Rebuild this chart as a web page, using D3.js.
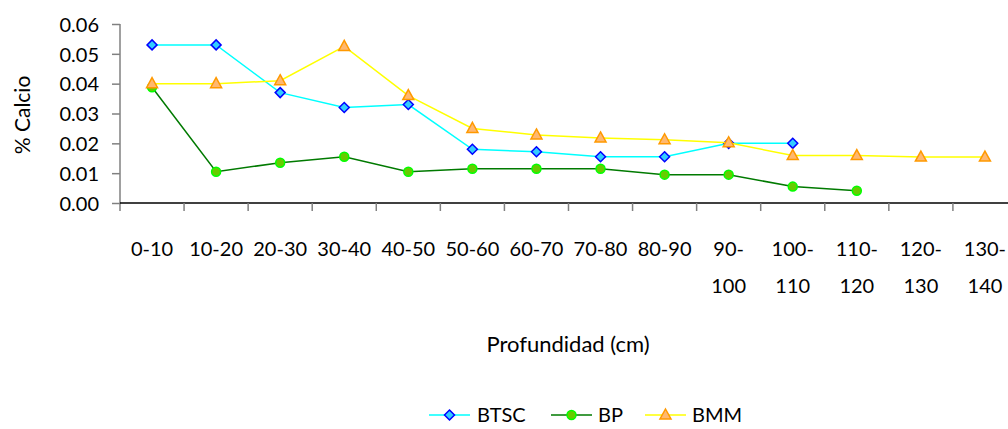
<!DOCTYPE html>
<html>
<head>
<meta charset="utf-8">
<script src="https://cdn.jsdelivr.net/npm/d3@7"></script>
<style>
  html, body { margin: 0; padding: 0; background: #fff; }
  svg { display: block; }
  text { font-family: Lato, "Open Sans", sans-serif; fill: #000; }
</style>
</head>
<body>
<svg id="chart" width="1008" height="429"></svg>
<script>
// Depth intervals (cm)
const categories = ["0-10", "10-20", "20-30", "30-40", "40-50", "50-60", "60-70",
  "70-80", "80-90", "90-100", "100-110", "110-120", "120-130", "130-140"];

// % calcium per profile
const btsc = [0.053, 0.053, 0.037, 0.032, 0.033, 0.018, 0.0172, 0.0155, 0.0155, 0.020, 0.020, null, null, null];
const bp   = [0.0388, 0.0105, 0.0135, 0.0155, 0.0105, 0.0115, 0.0115, 0.0115, 0.0095, 0.0095, 0.0055, 0.0041, null, null];
const bmm  = [0.040, 0.040, 0.041, 0.0525, 0.036, 0.025, 0.0228, 0.0218, 0.0212, 0.0202, 0.0159, 0.0159, 0.0154, 0.0154];

const yTicks = [0, 0.01, 0.02, 0.03, 0.04, 0.05, 0.06];

const series = [
  { name: "BTSC", values: btsc, line: "#00FFFF", fill: "#33CCFF", stroke: "#0000FF", shape: "diamond" },
  { name: "BP",   values: bp,   line: "#007A00", fill: "#66CC00", stroke: "#00FF00", shape: "circle" },
  { name: "BMM",  values: bmm,  line: "#FFFF00", fill: "#FFB870", stroke: "#FF9900", shape: "triangle" }
];

const FS = 20;
const svg = d3.select("#chart");
const plotLeft = 120, plotTop = 24, plotBottom = 203, band = 64.07;

const x = d3.scaleBand().domain(categories).range([plotLeft, plotLeft + band * categories.length]);
const y = d3.scaleLinear().domain([0, 0.06]).range([plotBottom, plotTop]);

// Y axis (gray)
const yAxis = svg.append("g")
  .attr("transform", `translate(${plotLeft},0)`)
  .call(d3.axisLeft(y).tickValues(yTicks).tickFormat(d3.format(".2f")).tickSize(8).tickSizeOuter(0));
yAxis.select(".domain").remove();
yAxis.append("line").attr("x1", 0).attr("x2", 0).attr("y1", plotTop).attr("y2", plotBottom + 8)
  .attr("stroke", "#808080").attr("stroke-width", 1.5);
yAxis.selectAll(".tick line").attr("stroke", "#808080").attr("stroke-width", 1.5);
yAxis.selectAll(".tick text").attr("x", -21).attr("dy", "0.36em")
  .attr("font-size", FS).style("font-family", "Lato, sans-serif");

// X axis: black baseline, gray category separators
svg.append("line").attr("x1", plotLeft).attr("x2", 1008).attr("y1", plotBottom).attr("y2", plotBottom)
  .attr("stroke", "#000").attr("stroke-width", 1.5);
svg.append("g").selectAll("line")
  .data(categories.slice(1))
  .join("line")
  .attr("x1", d => x(d)).attr("x2", d => x(d))
  .attr("y1", plotBottom).attr("y2", plotBottom + 8)
  .attr("stroke", "#808080").attr("stroke-width", 1.5);

// Category labels, wrapped after the hyphen when too wide
const xl = svg.append("g").selectAll("text").data(categories).join("text")
  .attr("text-anchor", "middle")
  .attr("font-size", FS)
  .attr("x", d => x(d) + x.bandwidth() / 2)
  .attr("y", 256);
xl.each(function(d) {
  const t = d3.select(this);
  if (d.length > 5) {
    const i = d.indexOf("-") + 1;
    t.append("tspan").attr("x", t.attr("x")).text(d.slice(0, i));
    t.append("tspan").attr("x", t.attr("x")).attr("dy", 37).text(d.slice(i));
  } else {
    t.text(d);
  }
});

// Axis titles
svg.append("text").attr("x", 568).attr("y", 352).attr("text-anchor", "middle")
  .attr("font-size", 22).text("Profundidad (cm)");
svg.append("text").attr("transform", "translate(29.5,115) rotate(-90)")
  .attr("text-anchor", "middle").attr("font-size", 21).text("% Calcio");

// Marker drawing
function marker(sel, s) {
  if (s.shape === "diamond") {
    sel.append("path").attr("d", "M0,-5L5,0L0,5L-5,0Z");
  } else if (s.shape === "circle") {
    sel.append("circle").attr("r", 4.5);
  } else {
    sel.append("path").attr("d", "M0,-6L5.5,4L-5.5,4Z");
  }
  sel.selectAll("path,circle").attr("fill", s.fill).attr("stroke", s.stroke).attr("stroke-width", 1.5);
}

const line = d3.line()
  .defined(d => d.v !== null)
  .x(d => x(d.c) + x.bandwidth() / 2)
  .y(d => y(d.v));

series.forEach(s => {
  const pts = categories.map((c, i) => ({ c, v: s.values[i] }));
  svg.append("path").datum(pts).attr("d", line)
    .attr("fill", "none").attr("stroke", s.line).attr("stroke-width", 1.5);
  pts.filter(d => d.v !== null).forEach(d => {
    const g = svg.append("g").attr("transform", `translate(${x(d.c) + x.bandwidth() / 2},${y(d.v)})`);
    marker(g, s);
  });
});

// Legend
const legendPos = [
  { lx: 429, tx: 477 },
  { lx: 551, tx: 598 },
  { lx: 645, tx: 692 }
];
series.forEach((s, i) => {
  const p = legendPos[i];
  const ly = 415;
  svg.append("line").attr("x1", p.lx).attr("x2", p.lx + 41).attr("y1", ly).attr("y2", ly)
    .attr("stroke", s.line).attr("stroke-width", 1.5);
  const g = svg.append("g").attr("transform", `translate(${p.lx + 20.5},${ly})`);
  marker(g, s);
  svg.append("text").attr("x", p.tx).attr("y", ly + 7).attr("font-size", FS).text(s.name);
});
</script>
</body>
</html>
